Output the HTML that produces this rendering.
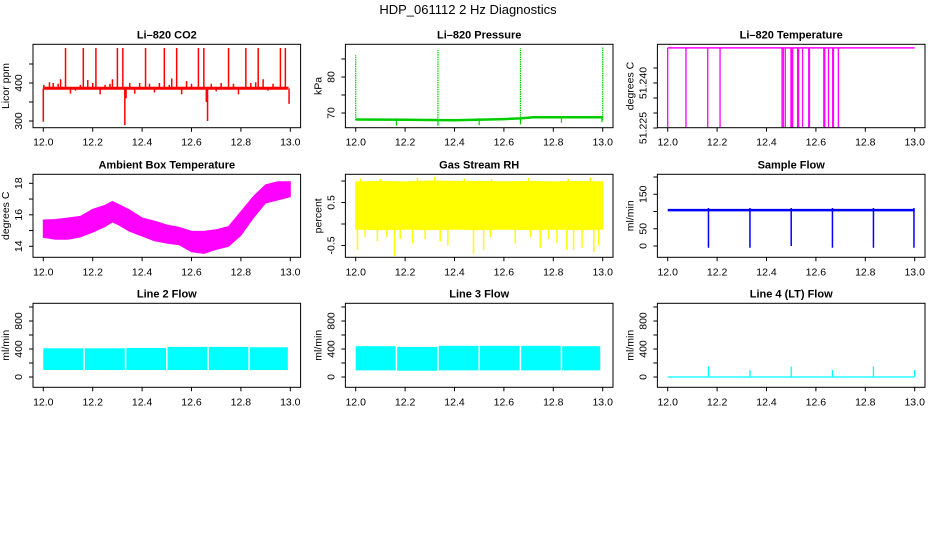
<!DOCTYPE html>
<html><head><meta charset="utf-8">
<style>
html,body{margin:0;padding:0;background:#fff;}
svg{display:block;font-family:"Liberation Sans",Arial,sans-serif;}
</style></head>
<body>
<svg id="chart" width="936" height="540" viewBox="0 0 936 540" xmlns="http://www.w3.org/2000/svg">
<rect x="0" y="0" width="936" height="540" fill="#fff"/>
<text x="468" y="14" font-size="13" text-anchor="middle">HDP_061112  2 Hz Diagnostics</text>
</svg>
<script>
// ---- shared axis data ----
const xTicks = [12.0, 12.2, 12.4, 12.6, 12.8, 13.0];
const xTickLabels = ["12.0", "12.2", "12.4", "12.6", "12.8", "13.0"];

// ---- Li-820 CO2 ----
const co2BaseT = [12.0, 12.99];
const co2BaseV = [386, 386];
const co2Spikes = [[12.0,298],[12.002,395],[12.025,402],[12.04,400],[12.06,398],[12.07,410],[12.09,492],[12.11,372],[12.13,380],[12.15,395],[12.162,492],[12.18,408],[12.2,400],[12.213,492],[12.23,370],[12.25,395],[12.27,398],[12.28,410],[12.30,492],[12.322,492],[12.33,289],[12.335,360],[12.35,400],[12.37,372],[12.39,400],[12.414,492],[12.43,398],[12.45,375],[12.47,400],[12.49,492],[12.51,395],[12.52,412],[12.54,492],[12.56,370],[12.58,405],[12.60,398],[12.628,492],[12.65,492],[12.66,350],[12.665,300],[12.68,398],[12.70,378],[12.72,400],[12.75,492],[12.77,398],[12.79,370],[12.82,492],[12.84,400],[12.86,402],[12.87,492],[12.89,410],[12.91,380],[12.93,398],[12.96,492],[12.98,492],[12.99,390],[12.995,345]];
const co2YTicks = [300, 350, 400, 450];
const co2YLabels = ["300", "", "400", ""];

// ---- Li-820 Pressure ----
const pressBaseT = [12.0, 12.2, 12.4, 12.6, 12.667, 12.72, 12.8, 13.0];
const pressBaseV = [68.2, 68.1, 68.0, 68.3, 68.5, 68.8, 68.8, 68.8];
const pressSpikeT = [12.0, 12.333, 12.667, 13.0];
const pressSpikeV = [86.1, 87.5, 88.0, 88.2];
const pressDipT = [12.165, 12.333, 12.5, 12.667, 12.833, 12.997];
const pressDipV = [66.5, 66.5, 66.6, 66.8, 67.3, 67.5];
const pressYTicks = [70, 75, 80, 85];
const pressYLabels = ["70", "", "80", ""];

// ---- Li-820 Temperature ----
const tempBaseT = [12.0, 13.0];
const tempBaseV = [51.2517, 51.2517];
const tempDropT = [12.0, 12.074, 12.162, 12.212, 12.463, 12.468, 12.476, 12.499, 12.503, 12.506, 12.526, 12.53, 12.546, 12.571, 12.574, 12.632, 12.636, 12.651, 12.668, 12.671, 12.691];
const tempDropV = 51.2252;
const tempYTicks = [51.225, 51.230, 51.235, 51.240, 51.245];
const tempYLabels = ["51.225", "", "", "51.240", ""];

// ---- Ambient Box Temperature ----
const ambT  = [12.0,12.05,12.10,12.15,12.20,12.25,12.28,12.30,12.35,12.40,12.45,12.50,12.55,12.60,12.65,12.70,12.75,12.80,12.85,12.90,12.95,13.0];
const ambHi = [15.67,15.7,15.8,15.9,16.35,16.6,16.85,16.7,16.3,15.8,15.6,15.35,15.2,14.95,14.95,15.05,15.25,16.2,17.15,17.9,18.1,18.1];
const ambLo = [14.57,14.45,14.45,14.6,14.9,15.25,15.55,15.4,14.95,14.65,14.35,14.2,14.1,13.65,13.55,13.8,14.0,14.7,15.8,16.75,16.95,17.15];
const ambYTicks = [14, 15, 16, 17, 18];
const ambYLabels = ["14", "", "16", "", "18"];

// ---- Gas Stream RH ----
const rhT  = [12.0,12.1,12.2,12.3,12.4,12.5,12.6,12.7,12.8,12.9,13.0];
const rhHi = [0.98,0.99,0.98,1.0,0.99,0.99,0.98,0.99,0.98,0.99,0.98];
const rhLo = [-0.12,-0.13,-0.12,-0.13,-0.12,-0.13,-0.12,-0.13,-0.12,-0.13,-0.12];
const rhSpikeT = [12.007,12.038,12.088,12.126,12.157,12.18,12.23,12.281,12.342,12.373,12.477,12.518,12.545,12.646,12.707,12.747,12.781,12.815,12.855,12.882,12.916,12.964,12.984];
const rhSpikeV = [-0.6,-0.3,-0.4,-0.3,-0.75,-0.35,-0.45,-0.35,-0.4,-0.5,-0.7,-0.6,-0.3,-0.45,-0.3,-0.55,-0.35,-0.45,-0.6,-0.6,-0.55,-0.65,-0.5];
const rhUpT = [12.02,12.1,12.25,12.32,12.44,12.55,12.7,12.86,12.95];
const rhUpV = [1.06,1.05,1.08,1.1,1.06,1.05,1.07,1.06,1.08];
const rhYTicks = [-0.5, 0, 0.5, 1];
const rhYLabels = ["-0.5", "", "0.5", ""];

// ---- Sample Flow ----
const sfBaseT = [12.0, 13.0];
const sfBaseV = [104, 104];
const sfDropT = [12.165, 12.333, 12.5, 12.667, 12.833, 12.997];
const sfDropV = [-5, -5, 0, -5, -5, -5];
const sfYTicks = [0, 50, 100, 150, 200];
const sfYLabels = ["0", "50", "", "150", ""];

// ---- Line 2 / 3 / 4 Flow ----
const l2Start = [12.0, 12.168, 12.336, 12.503, 12.67, 12.836];
const l2End   = [12.162, 12.33, 12.497, 12.664, 12.83, 12.99];
const l2Lo = [100, 100, 100, 100, 100, 100];
const l2Hi = [410, 410, 415, 430, 430, 425];
const l3Start = [12.0, 12.168, 12.336, 12.503, 12.67, 12.836];
const l3End   = [12.162, 12.33, 12.497, 12.664, 12.83, 12.99];
const l3Lo = [95, 90, 95, 95, 95, 95];
const l3Hi = [440, 430, 445, 445, 445, 440];
const l4BaseT = [12.0, 13.0];
const l4BaseV = [0, 0];
const l4SpikeT = [12.165, 12.333, 12.5, 12.667, 12.833, 13.0];
const l4SpikeV = [150, 100, 150, 100, 150, 100];
const flowYTicks = [0, 200, 400, 600, 800, 1000];
const flowYLabels = ["0", "", "400", "", "800", ""];

// ---------- drawing ----------
const svg = document.getElementById('chart');
const NS = 'http://www.w3.org/2000/svg';
function mk(tag, attrs, parent) {
  const e = document.createElementNS(NS, tag);
  for (const k in attrs) e.setAttribute(k, attrs[k]);
  (parent || svg).appendChild(e);
  return e;
}
const colX0 = [43.3, 355.7, 667.7];
const colPx = 247;
const rowBox = [[44.3, 127.7], [174.3, 257.3], [303.3, 387.3]];

function makePanel(col, row, name, title, ytitle, ymap, yTicks, yLabels) {
  const g = mk('g', {});
  
  
  const x = t => colX0[col] + (t - 12) * colPx;
  const [top, bot] = rowBox[row];
  const left = x(12) - 10.3, right = x(13) + 10.3;
  const clipId = 'clip-' + name;
  const cp = mk('clipPath', { id: clipId }, g);
  mk('rect', { x: left, y: top, width: right - left, height: bot - top }, cp);
  const data = mk('g', { 'clip-path': 'url(#' + clipId + ')' }, g);
  
  
  const box = mk('rect', { x: left, y: top, width: right - left, height: bot - top, fill: 'none', stroke: '#000', 'stroke-width': 1 }, g);
  
  
  const tt = mk('text', { x: (left + right) / 2, y: top - 6, 'font-size': 11, 'font-weight': 'bold', 'text-anchor': 'middle' }, g);
  tt.textContent = title;
  
  
  xTicks.forEach((t, i) => {
    mk('line', { x1: x(t), x2: x(t), y1: bot, y2: bot + 4, stroke: '#000' }, g);
    const lb = mk('text', { x: x(t), y: bot + 18, 'font-size': 10.5, 'text-anchor': 'middle' }, g);
    lb.textContent = xTickLabels[i];
    
    
  });
  yTicks.forEach((v, i) => {
    const yy = ymap(v);
    mk('line', { x1: left - 4, x2: left, y1: yy, y2: yy, stroke: '#000' }, g);
    if (yLabels[i]) {
      const lb = mk('text', { x: left - 11, y: yy, 'font-size': 10.5, 'text-anchor': 'middle', transform: 'rotate(-90 ' + (left - 11) + ' ' + yy + ')' }, g);
      lb.textContent = yLabels[i];
      
      
    }
  });
  const ym = (top + bot) / 2, yx = left - 24;
  const yt = mk('text', { x: yx, y: ym, 'font-size': 10.5, 'text-anchor': 'middle', transform: 'rotate(-90 ' + yx + ' ' + ym + ')' }, g);
  yt.textContent = ytitle;
  
  
  return { x, y: ymap, g: data };
}
function polyline(p, ts, vs, color, w) {
  const pts = ts.map((t, i) => p.x(t).toFixed(1) + ',' + p.y(vs[i]).toFixed(1)).join(' ');
  return mk('polyline', { points: pts, fill: 'none', stroke: color, 'stroke-width': w }, p.g);
}
function vline(p, t, v0, v1, color, w) {
  return mk('line', { x1: p.x(t), x2: p.x(t), y1: p.y(v0), y2: p.y(v1), stroke: color, 'stroke-width': w }, p.g);
}

// CO2
{
  const p = makePanel(0, 0, 'co2', 'Li\u2013820 CO2', 'Licor ppm', v => 121 - (v - 300) * 0.38, co2YTicks, co2YLabels);
  const b = polyline(p, co2BaseT, co2BaseV, '#ff0000', 3);
  
  co2Spikes.forEach(s => { const l = vline(p, s[0], co2BaseV[0], s[1], '#ff0000', 1.5);  });
}
// Pressure
{
  const p = makePanel(1, 0, 'pressure', 'Li\u2013820 Pressure', 'kPa', v => 113 - (v - 70) * 3.6, pressYTicks, pressYLabels);
  const b = polyline(p, pressBaseT, pressBaseV, '#00cd00', 2.5);
  
  pressSpikeT.forEach((t, i) => { const l = vline(p, t, 68, pressSpikeV[i], '#00cd00', 1.2);  l.setAttribute('stroke-dasharray', '1.5 0.8'); });
  pressDipT.forEach((t, i) => { const l = vline(p, t, 68.5, pressDipV[i], '#00cd00', 1.2);  });
}
// Temperature
{
  const p = makePanel(2, 0, 'li820-temperature', 'Li\u2013820 Temperature', 'degrees C', v => 83 - (v - 51.24) * 3000, tempYTicks, tempYLabels);
  const b = polyline(p, tempBaseT, tempBaseV, '#ff00ff', 1.5);
  
  tempDropT.forEach(t => { const l = vline(p, t, tempBaseV[0], tempDropV, '#ff00ff', 1.3);  });
}
// Ambient
{
  const p = makePanel(0, 1, 'ambient-temperature', 'Ambient Box Temperature', 'degrees C', v => 183.3 - (v - 18) * 15.75, ambYTicks, ambYLabels);
  const pts = ambT.map((t, i) => p.x(t) + ',' + p.y(ambHi[i])).concat(ambT.slice().reverse().map((t, j) => { const i = ambT.length - 1 - j; return p.x(t) + ',' + p.y(ambLo[i]); })).join(' ');
  const poly = mk('polygon', { points: pts, fill: '#ff00ff', stroke: '#ff00ff', 'stroke-width': 1 }, p.g);
  
}
// RH
{
  const p = makePanel(1, 1, 'gas-stream-rh', 'Gas Stream RH', 'percent', v => 224 - v * 43, rhYTicks, rhYLabels);
  const pts = rhT.map((t, i) => p.x(t) + ',' + p.y(rhHi[i])).concat(rhT.slice().reverse().map((t, j) => { const i = rhT.length - 1 - j; return p.x(t) + ',' + p.y(rhLo[i]); })).join(' ');
  const poly = mk('polygon', { points: pts, fill: '#ffff00', stroke: '#ffff00', 'stroke-width': 1 }, p.g);
  
  rhSpikeT.forEach((t, i) => { const l = vline(p, t, 0, rhSpikeV[i], '#ffff00', 1.5);  });
  rhUpT.forEach((t, i) => { const l = vline(p, t, 0.9, rhUpV[i], '#ffff00', 1.5);  });
}
// Sample flow
{
  const p = makePanel(2, 1, 'sample-flow', 'Sample Flow', 'ml/min', v => 246 - v * 0.345, sfYTicks, sfYLabels);
  const b = polyline(p, sfBaseT, sfBaseV, '#0000ff', 2.5);
  
  sfDropT.forEach((t, i) => { const l = vline(p, t, 110, sfDropV[i], '#0000ff', 1.5);  });
}
// Line 2 & 3
function bands(p, st, en, lo, hi, name) {
  st.forEach((t, i) => {
    const r = mk('rect', { x: p.x(t), y: p.y(hi[i]), width: p.x(en[i]) - p.x(t), height: p.y(lo[i]) - p.y(hi[i]), fill: '#00ffff' }, p.g);
    
  });
}
{
  const p = makePanel(0, 2, 'line2-flow', 'Line 2 Flow', 'ml/min', v => 377 - v * 0.07, flowYTicks, flowYLabels);
  bands(p, l2Start, l2End, l2Lo, l2Hi, 'line2');
}
{
  const p = makePanel(1, 2, 'line3-flow', 'Line 3 Flow', 'ml/min', v => 377 - v * 0.07, flowYTicks, flowYLabels);
  bands(p, l3Start, l3End, l3Lo, l3Hi, 'line3');
}
{
  const p = makePanel(2, 2, 'line4-flow', 'Line 4 (LT) Flow', 'ml/min', v => 377 - v * 0.07, flowYTicks, flowYLabels);
  const b = polyline(p, l4BaseT, l4BaseV, '#00ffff', 1.2);
  
  l4SpikeT.forEach((t, i) => { const l = vline(p, t, 0, l4SpikeV[i], '#00ffff', 1.3);  });
}
</script>
</body></html>
